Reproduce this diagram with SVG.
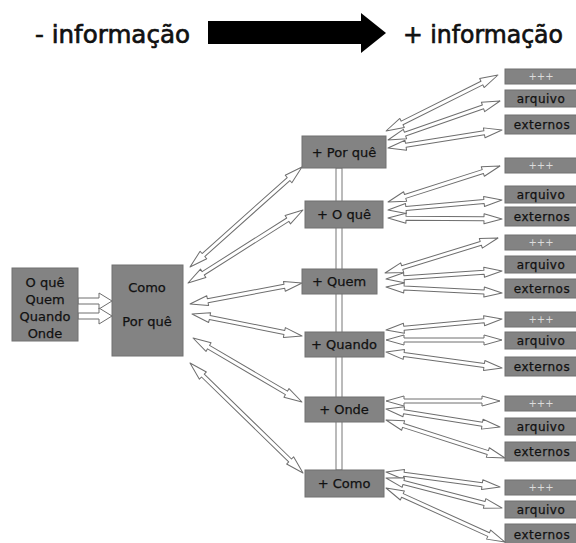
<svg xmlns="http://www.w3.org/2000/svg" width="576" height="543" viewBox="0 0 576 543">
<style>
  .title{font-family:"DejaVu Sans",sans-serif;font-size:25px;fill:#111;stroke:#111;stroke-width:0.7}
  .box{fill:#838383;stroke:#707070;stroke-width:1}
  .t{font-family:"DejaVu Sans",sans-serif;font-size:13px;fill:#111;stroke:#111;stroke-width:0.25;text-anchor:middle}
  .s{font-family:"DejaVu Sans",sans-serif;font-size:12px;fill:#111;stroke:#111;stroke-width:0.25;text-anchor:middle;letter-spacing:0.5px}
  .p{font-family:"DejaVu Sans",sans-serif;font-size:10px;fill:#dcdcdc;text-anchor:middle}
  .arr{fill:#fff;stroke:#6e6e6e;stroke-width:1;stroke-linejoin:round}
</style>
<rect width="576" height="543" fill="#fff"/>
<g id="header">
  <text class="title" x="35" y="43" textLength="155" lengthAdjust="spacingAndGlyphs">- informação</text>
  <polygon points="208,21 361,21 361,13 386,33 361,53 361,44 208,44" fill="#000"/>
  <text class="title" x="403" y="43" textLength="160" lengthAdjust="spacingAndGlyphs">+ informação</text>
</g>
<g id="connectors">
  <rect x="336" y="168" width="6" height="302" fill="#fff" stroke="#777" stroke-width="1"/>
  <path class="arr" d="M78,298 L99,298 L99,293 L112,301 L99,309 L99,304 L78,304 Z"/>
  <path class="arr" d="M78,313 L99,313 L99,308 L112,316 L99,324 L99,319 L78,319 Z"/>
  <path class="arr" transform="translate(190 267) rotate(-41.76)" d="M0,0 L18,-5 L18,-2 L132.1,-2 L132.1,-5 L150.1,0 L132.1,5 L132.1,2 L18,2 L18,5 Z"/>
  <path class="arr" transform="translate(188 283) rotate(-32.41)" d="M0,0 L18,-5 L18,-2 L118.2,-2 L118.2,-5 L136.2,0 L118.2,5 L118.2,2 L18,2 L18,5 Z"/>
  <path class="arr" transform="translate(190 304) rotate(-10.62)" d="M0,0 L18,-5 L18,-2 L96,-2 L96,-5 L114,0 L96,5 L96,2 L18,2 L18,5 Z"/>
  <path class="arr" transform="translate(192 314) rotate(11.31)" d="M0,0 L18,-5 L18,-2 L94.2,-2 L94.2,-5 L112.2,0 L94.2,5 L94.2,2 L18,2 L18,5 Z"/>
  <path class="arr" transform="translate(193 338) rotate(30.42)" d="M0,0 L18,-5 L18,-2 L108.4,-2 L108.4,-5 L126.4,0 L108.4,5 L108.4,2 L18,2 L18,5 Z"/>
  <path class="arr" transform="translate(190 363) rotate(44.23)" d="M0,0 L18,-5 L18,-2 L139.7,-2 L139.7,-5 L157.7,0 L139.7,5 L139.7,2 L18,2 L18,5 Z"/>

  <path class="arr" transform="translate(386 131) rotate(-26.57)" d="M0,0 L18,-5 L18,-2 L107.2,-2 L107.2,-5 L125.2,0 L107.2,5 L107.2,2 L18,2 L18,5 Z"/>
  <path class="arr" transform="translate(388 140) rotate(-19.2)" d="M0,0 L18,-5 L18,-2 L100.6,-2 L100.6,-5 L118.6,0 L100.6,5 L100.6,2 L18,2 L18,5 Z"/>
  <path class="arr" transform="translate(388 148) rotate(-8.97)" d="M0,0 L18,-5 L18,-2 L97.4,-2 L97.4,-5 L115.4,0 L97.4,5 L97.4,2 L18,2 L18,5 Z"/>

  <path class="arr" transform="translate(388 202) rotate(-17.82)" d="M0,0 L18,-5 L18,-2 L99.6,-2 L99.6,-5 L117.6,0 L99.6,5 L99.6,2 L18,2 L18,5 Z"/>
  <path class="arr" transform="translate(388 210) rotate(-5.01)" d="M0,0 L18,-5 L18,-2 L96.4,-2 L96.4,-5 L114.4,0 L96.4,5 L96.4,2 L18,2 L18,5 Z"/>
  <path class="arr" transform="translate(388 218) rotate(0.5)" d="M0,0 L18,-5 L18,-2 L96,-2 L96,-5 L114,0 L96,5 L96,2 L18,2 L18,5 Z"/>

  <path class="arr" transform="translate(385 273) rotate(-17.21)" d="M0,0 L18,-5 L18,-2 L100.3,-2 L100.3,-5 L118.3,0 L100.3,5 L100.3,2 L18,2 L18,5 Z"/>
  <path class="arr" transform="translate(386 279) rotate(-3.95)" d="M0,0 L18,-5 L18,-2 L98.3,-2 L98.3,-5 L116.3,0 L98.3,5 L98.3,2 L18,2 L18,5 Z"/>
  <path class="arr" transform="translate(386 287) rotate(2.96)" d="M0,0 L18,-5 L18,-2 L98.2,-2 L98.2,-5 L116.2,0 L98.2,5 L98.2,2 L18,2 L18,5 Z"/>

  <path class="arr" transform="translate(386 330) rotate(-5.42)" d="M0,0 L18,-5 L18,-2 L98.5,-2 L98.5,-5 L116.5,0 L98.5,5 L98.5,2 L18,2 L18,5 Z"/>
  <path class="arr" transform="translate(386 340) rotate(0)" d="M0,0 L18,-5 L18,-2 L98,-2 L98,-5 L116,0 L98,5 L98,2 L18,2 L18,5 Z"/>
  <path class="arr" transform="translate(386 352) rotate(7.85)" d="M0,0 L18,-5 L18,-2 L99.1,-2 L99.1,-5 L117.1,0 L99.1,5 L99.1,2 L18,2 L18,5 Z"/>

  <path class="arr" transform="translate(386 401) rotate(0)" d="M0,0 L18,-5 L18,-2 L96,-2 L96,-5 L114,0 L96,5 L96,2 L18,2 L18,5 Z"/>
  <path class="arr" transform="translate(386 409) rotate(8.97)" d="M0,0 L18,-5 L18,-2 L97.4,-2 L97.4,-5 L115.4,0 L97.4,5 L97.4,2 L18,2 L18,5 Z"/>
  <path class="arr" transform="translate(386 420) rotate(17.71)" d="M0,0 L18,-5 L18,-2 L106.9,-2 L106.9,-5 L124.9,0 L106.9,5 L106.9,2 L18,2 L18,5 Z"/>

  <path class="arr" transform="translate(386 472) rotate(7.5)" d="M0,0 L18,-5 L18,-2 L97,-2 L97,-5 L115,0 L97,5 L97,2 L18,2 L18,5 Z"/>
  <path class="arr" transform="translate(386 478) rotate(14.5)" d="M0,0 L18,-5 L18,-2 L101.8,-2 L101.8,-5 L119.8,0 L101.8,5 L101.8,2 L18,2 L18,5 Z"/>
  <path class="arr" transform="translate(386 488) rotate(24.41)" d="M0,0 L18,-5 L18,-2 L112.7,-2 L112.7,-5 L130.7,0 L112.7,5 L112.7,2 L18,2 L18,5 Z"/>
</g>
<g id="n-inicio">
  <rect class="box" x="12" y="268" width="66" height="73"/>
  <text class="t" x="45" y="287">O quê</text>
  <text class="t" x="45" y="304">Quem</text>
  <text class="t" x="45" y="321">Quando</text>
  <text class="t" x="45" y="338">Onde</text>
</g>
<g id="n-como-porque">
  <rect class="box" x="112" y="265" width="71" height="91"/>
  <text class="t" x="147" y="292">Como</text>
  <text class="t" x="147" y="326">Por quê</text>
</g>
<g id="n-porque"><rect class="box" x="302" y="136" width="84" height="32"/><text class="t" x="344" y="157">+ Por quê</text></g>
<g id="n-oque"><rect class="box" x="305" y="201" width="78" height="27"/><text class="t" x="344" y="219">+ O quê</text></g>
<g id="n-quem"><rect class="box" x="302" y="269" width="75" height="25"/><text class="t" x="339" y="286">+ Quem</text></g>
<g id="n-quando"><rect class="box" x="305" y="332" width="79" height="25"/><text class="t" x="344" y="349">+ Quando</text></g>
<g id="n-onde"><rect class="box" x="305" y="397" width="79" height="25"/><text class="t" x="344" y="414">+ Onde</text></g>
<g id="n-como"><rect class="box" x="305" y="470" width="79" height="27"/><text class="t" x="344" y="488">+ Como</text></g>

<g id="r1"><rect class="box" x="505" y="69" width="75" height="15"/><text class="p" x="541" y="80">+++</text>
<rect class="box" x="505" y="90" width="75" height="17"/><text class="s" x="541" y="103">arquivo</text>
<rect class="box" x="505" y="115" width="75" height="19"/><text class="s" x="542" y="129">externos</text></g>
<g id="r2"><rect class="box" x="505" y="158" width="75" height="15"/><text class="p" x="541" y="169">+++</text>
<rect class="box" x="505" y="186" width="75" height="17"/><text class="s" x="541" y="199">arquivo</text>
<rect class="box" x="505" y="207" width="75" height="19"/><text class="s" x="542" y="221">externos</text></g>
<g id="r3"><rect class="box" x="505" y="235" width="75" height="15"/><text class="p" x="541" y="246">+++</text>
<rect class="box" x="505" y="256" width="75" height="17"/><text class="s" x="541" y="269">arquivo</text>
<rect class="box" x="505" y="279" width="75" height="19"/><text class="s" x="542" y="293">externos</text></g>
<g id="r4"><rect class="box" x="505" y="312" width="75" height="15"/><text class="p" x="541" y="323">+++</text>
<rect class="box" x="505" y="332" width="75" height="17"/><text class="s" x="541" y="345">arquivo</text>
<rect class="box" x="505" y="357" width="75" height="19"/><text class="s" x="542" y="371">externos</text></g>
<g id="r5"><rect class="box" x="505" y="396" width="75" height="15"/><text class="p" x="541" y="407">+++</text>
<rect class="box" x="505" y="418" width="75" height="17"/><text class="s" x="541" y="431">arquivo</text>
<rect class="box" x="505" y="442" width="75" height="19"/><text class="s" x="542" y="456">externos</text></g>
<g id="r6"><rect class="box" x="505" y="480" width="75" height="15"/><text class="p" x="541" y="491">+++</text>
<rect class="box" x="505" y="501" width="75" height="17"/><text class="s" x="541" y="514">arquivo</text>
<rect class="box" x="505" y="524" width="75" height="21"/><text class="s" x="542" y="539">externos</text></g>
</svg>
